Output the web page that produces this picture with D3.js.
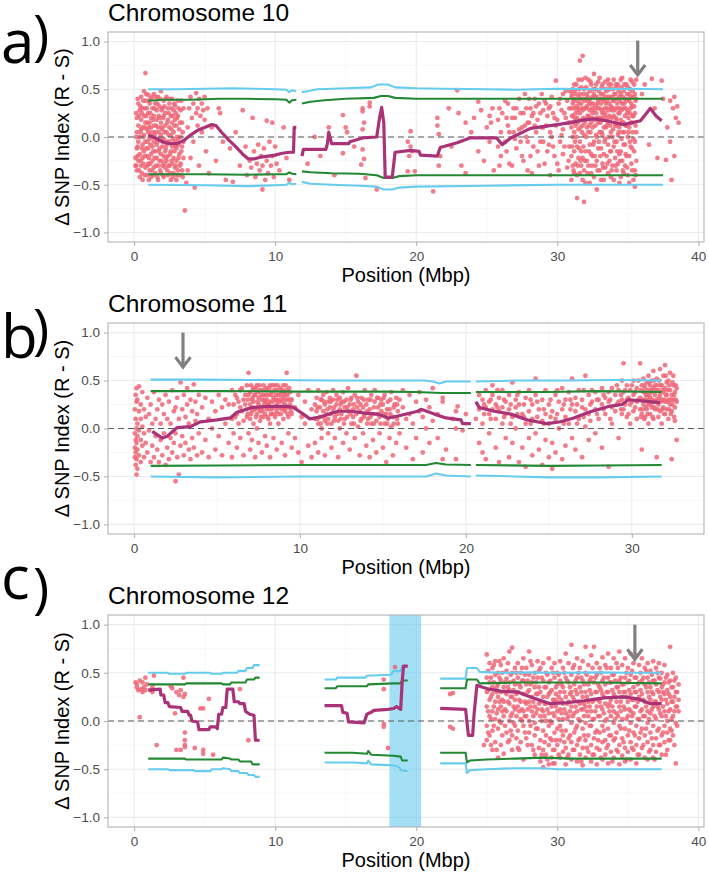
<!DOCTYPE html>
<html>
<head>
<meta charset="utf-8">
<script src="https://cdn.jsdelivr.net/npm/d3@7"></script>
<style>
  body { margin: 0; background: #fff; }
  svg { display: block; }
</style>
</head>
<body>
<div id="chart"></div>
<script>
// ---- DATA ----
// SNP columns: [position (Mbp), delta SNP values at that position...]
const chr10Snps = [
  [0.1,-0.22,-0.3],[0.2,0.2,0.05,-0.12,-0.35],[0.3,0.35,0.12,-0.05,-0.25],[0.4,0.28,0.0,-0.18,-0.42],
  [0.5,0.42,0.18,0.08,-0.3],[0.6,0.3,0.1,-0.08,-0.22,-0.45],[0.7,0.48,0.22,0.02,-0.15],[0.8,0.67,0.38,0.15,-0.05,-0.32],
  [0.9,0.3,0.08,-0.2,-0.4],[1.0,0.44,0.25,0.05,-0.12,-0.28],[1.1,0.35,0.15,-0.02,-0.35],[1.2,0.4,0.2,0.1,-0.18,-0.42],
  [1.3,0.3,0.0,-0.1,-0.25],[1.4,0.45,0.22,0.12,-0.05,-0.32],[1.5,0.35,0.05,-0.15,-0.38],[1.6,0.28,0.18,-0.08,-0.22],
  [1.7,0.42,0.1,-0.02,-0.3,-0.45],[1.8,0.32,0.2,-0.12,-0.25],[1.9,0.48,0.15,0.02,-0.18,-0.38],[2.0,0.3,0.08,-0.1,-0.3],
  [2.1,0.38,0.22,-0.02,-0.2,-0.42],[2.2,0.25,0.12,-0.15,-0.32],[2.3,0.42,0.05,-0.08,-0.25],[2.4,0.3,0.18,-0.2,-0.4],
  [2.5,0.35,0.1,-0.05,-0.3],[2.6,0.22,0.02,-0.15,-0.45],[2.7,0.4,0.15,-0.1,-0.28],[2.8,0.28,0.05,-0.22,-0.38],
  [2.9,0.33,0.18,-0.05,-0.32],[3.0,0.12,-0.12,-0.25,-0.45],[3.1,0.38,0.22,-0.02,-0.35],[3.2,0.08,-0.18,-0.4],
  [3.3,0.28,0.0,-0.28],[3.4,0.15,-0.1,-0.35],[3.5,0.3,-0.05,-0.22],
  [0.15,0.25,0.0,-0.3],[0.25,0.4,-0.1,-0.2],[0.35,0.22,-0.35],[0.45,0.32,0.05,-0.25],[0.55,0.25,-0.12,-0.38],
  [0.65,0.38,0.0,-0.28],[0.75,0.3,0.1,-0.2,-0.4],[0.85,0.45,0.22,-0.12],[0.95,0.15,-0.05,-0.3],[1.05,0.38,0.1,-0.22,-0.45],
  [1.15,0.25,-0.08,-0.28],[1.25,0.42,0.05,-0.35],[1.35,0.18,-0.15,-0.4],[1.45,0.3,0.02,-0.22],[1.55,0.42,0.12,-0.3],
  [1.65,0.35,-0.05,-0.42],[1.75,0.22,0.05,-0.15],[1.85,0.4,-0.02,-0.35],[1.95,0.28,0.1,-0.25],[2.05,0.2,-0.05,-0.4],
  [2.15,0.32,0.05,-0.28],[2.25,0.4,-0.12,-0.22],[2.35,0.15,-0.05,-0.35],[2.45,0.25,0.02,-0.3],[2.55,0.4,-0.18,-0.38],
  [2.65,0.3,0.08,-0.25],[2.75,0.22,-0.02,-0.42],[2.85,0.35,0.12,-0.15],[2.95,0.25,-0.1,-0.3],[3.05,0.2,0.0,-0.4],
  [3.15,0.3,-0.08,-0.22],[3.25,0.15,-0.3],[3.35,0.38,-0.15],[3.45,0.05,-0.42],
  [3.6,-0.77],[3.7,-0.48],[3.8,0.1,-0.35],[3.9,0.3],[4.0,0.42,-0.22],[4.1,0.2],[4.2,0.35,-0.05],[4.3,-0.53],
  [4.4,0.46,0.25],[4.5,0.3,0.12],[4.6,0.4,-0.3],[4.7,0.22],[4.8,0.35,0.05],[4.9,0.28],[5.0,0.18,0.42],[5.1,-0.15],
  [5.2,0.3],[5.3,-0.38],[5.5,0.1],[5.8,-0.25],[6.0,0.3],[6.1,0.25],[6.3,-0.05],[6.5,-0.45],[6.8,-0.12],[7.0,-0.47],
  [7.2,0.05],[7.5,-0.3],[7.7,0.28],
  [7.9,-0.1],[8.0,-0.4],[8.2,-0.25],[8.3,-0.32],[8.4,0.2],[8.5,-0.15],[8.6,-0.42],[8.7,-0.28],[8.8,-0.08],[8.9,-0.35],
  [9.0,-0.2],[9.1,-0.55,-0.3],[9.2,-0.12],[9.3,-0.45],[9.4,0.17,-0.25],[9.5,-0.38],[9.6,-0.05],[9.7,-0.3],
  [9.8,0.15,-0.2],[9.9,-0.42],[10.0,-0.1],[10.1,-0.28],[10.3,-0.35],[10.6,0.1],[10.8,-0.22],[11.0,-0.45],
  [12.3,-0.28],[12.8,0.0],[13.2,-0.2],[13.8,0.1],[14.2,-0.4],[14.8,0.23,-0.17],[15.0,0.1],[15.1,0.05],[15.6,-0.1],
  [16.1,-0.29],[16.2,0.3,0.27,0.08,-0.13],[16.3,0.15,-0.23],[16.4,-0.43],[16.7,0.36,0.32],[17.2,-0.55],
  [19.4,-0.05,-0.36],[19.5,-0.2],[19.6,0.06,-0.1],[19.7,-0.15],[19.9,-0.36],
  [21.2,-0.57],[21.5,0.2,0.12],[21.6,0.03,-0.3],[21.7,-0.2],
  [22.3,0.3],[22.5,-0.1],[22.9,0.49],[23.0,0.25],[23.2,-0.3],[23.5,0.15,-0.38],[23.9,0.05],[24.1,0.2],
  [24.4,0.37,-0.15],[24.6,0.28],[24.8,-0.25],[25.0,0.1],[25.2,-0.05,0.22],[25.4,0.3],[25.5,-0.35],[25.8,0.18,-0.1],
  [26.0,-0.2,0.05],[26.1,0.25],[26.3,-0.05,0.38],[26.5,0.35,0.12],[26.6,0.05,-0.28],[26.8,-0.3,0.2],[27.0,0.2,-0.02],
  [27.1,-0.12,0.3],[27.3,0.4,0.08],[27.5,0.1,-0.2],[27.6,-0.25,0.25],[27.8,0.3,0.0],[27.9,-0.05,0.15,-0.35],
  [28.0,0.15,0.4],[28.2,-0.38,0.22],[28.3,0.25,-0.1],[28.5,0.05,0.32],[28.6,-0.15,0.18],[28.7,0.35,-0.3],
  [28.9,0.45,0.1],[29.0,0.1,-0.05,0.28],[29.1,-0.28,0.38],[29.3,0.22,-0.15],[29.4,-0.08,0.3],[29.5,0.32,0.05,-0.4],
  [29.6,0.0,0.42],[29.8,-0.2,0.2],[29.9,0.59,0.12],[30.0,0.18,-0.28],[30.1,-0.35,0.35],[30.3,0.28,0.02],
  [30.4,0.08,-0.18,0.45],[30.5,-0.1,0.25],[30.7,0.38,-0.32],[30.8,-0.25,0.15],[30.9,0.15,0.48],
  [25.3,0.15],[25.9,0.3,-0.3],[26.4,0.2,-0.15],[26.9,0.3,0.05],[27.4,-0.05,0.25],[27.7,0.12,0.45],[28.1,0.3,-0.2],
  [28.4,0.12,0.4],[28.8,-0.05,0.25],[29.2,0.12,0.35],[29.7,0.25,-0.1],[30.2,0.4,-0.05],[30.6,0.2,0.48],[30.85,0.3,-0.1],
  [31.0,0.42,0.3,0.1,-0.2,-0.45],[31.1,0.5,0.35,0.22,0.0,-0.3],[31.2,0.55,0.4,0.3,0.05,-0.15,-0.38],
  [31.3,0.45,0.25,0.12,-0.28],[31.4,0.38,0.2,-0.1,-0.4,-0.64],[31.5,0.6,0.42,0.3,0.08,-0.22],
  [31.6,0.8,0.45,0.25,-0.05,-0.38],[31.7,0.52,0.35,0.18,-0.15,-0.3],[31.8,0.85,0.4,0.28,0.12,-0.22,-0.45],
  [31.9,0.5,0.3,0.02,-0.35,-0.68],[32.0,0.62,0.4,0.18,-0.15,-0.48],[32.1,0.45,0.32,0.1,-0.25],
  [32.2,0.6,0.38,0.22,0.05,-0.3],[32.3,0.48,0.28,-0.08,-0.48],[32.4,0.55,0.35,0.15,-0.18,-0.38],
  [32.5,0.42,0.25,0.1,-0.2],[32.6,0.66,0.45,0.28,-0.05,-0.42],[32.7,0.5,0.32,0.12,-0.3],
  [32.8,0.42,0.2,0.0,-0.25,-0.55],[32.9,0.58,0.38,0.15,-0.12],[33.0,0.62,0.3,0.05,-0.35],
  [33.1,0.45,0.35,0.2,-0.12,-0.45],[33.2,0.55,0.4,0.25,0.02,-0.28],[33.3,0.38,0.1,-0.18,-0.45],
  [33.4,0.58,0.42,0.25,-0.02,-0.32],[33.5,0.48,0.3,0.12,-0.2],[33.6,0.6,0.42,0.15,-0.08,-0.38],
  [33.7,0.5,0.35,0.22,-0.25],[33.8,0.55,0.32,0.05,-0.15,-0.42],[33.9,0.42,0.28,0.0,-0.3],
  [34.0,0.6,0.38,0.22,-0.1,-0.45],[34.1,0.45,0.3,0.12,-0.22],[34.2,0.52,0.4,0.18,-0.05,-0.35],
  [34.3,0.55,0.3,0.02,-0.28],[34.4,0.42,0.25,0.1,-0.18,-0.48],[34.5,0.6,0.45,0.18,-0.15,-0.42],
  [34.6,0.62,0.35,0.05,-0.25],[34.7,0.48,0.3,0.15,-0.08,-0.38],[34.8,0.4,0.22,-0.08,-0.3],
  [34.9,0.55,0.38,0.12,-0.2],[35.0,0.52,0.28,0.0,-0.4],[35.1,0.45,0.38,0.1,-0.2,-0.48],
  [35.2,0.6,0.3,0.15,-0.1],[35.3,0.58,0.32,0.15,-0.12,-0.35],[35.4,0.42,0.22,-0.02,-0.45],
  [35.5,0.45,0.25,-0.05,-0.35,-0.52],[35.6,0.6,0.4,0.05,-0.25],
  [31.05,0.45,0.22,-0.1],[31.15,0.38,0.15,-0.35],[31.25,0.48,0.2,-0.05],[31.35,0.55,0.32,0.0],[31.45,0.28,0.15,-0.3],
  [31.55,0.5,0.35,-0.12],[31.65,0.4,0.1,-0.25],[31.75,0.6,0.3,0.05],[31.85,0.45,0.2,-0.1],[31.95,0.38,0.15,-0.25],
  [32.05,0.52,0.3,0.0],[32.15,0.42,0.22,-0.38],[32.25,0.35,0.12,-0.15],[32.35,0.58,0.4,0.05],[32.45,0.3,0.2,-0.3],
  [32.55,0.5,0.35,-0.08],[32.65,0.42,0.18,-0.2],[32.75,0.55,0.25,0.02],[32.85,0.35,0.3,-0.35],[32.95,0.48,0.2,-0.05],
  [33.05,0.4,0.15,-0.2],[33.15,0.52,0.28,0.05],[33.25,0.45,0.18,-0.32],[33.35,0.3,0.22,-0.05],[33.45,0.5,0.35,0.1],
  [33.55,0.38,0.2,-0.28],[33.65,0.55,0.28,0.0],[33.75,0.42,0.12,-0.15],[33.85,0.3,0.2,-0.35],[33.95,0.5,0.38,0.08],
  [34.05,0.45,0.28,-0.05],[34.15,0.55,0.2,-0.3],[34.25,0.35,0.12,-0.15],[34.35,0.48,0.25,0.05],[34.45,0.38,0.3,-0.25],
  [34.55,0.52,0.28,-0.02],[34.65,0.42,0.15,-0.35],[34.75,0.55,0.35,0.05],[34.85,0.3,0.12,-0.18],[34.95,0.45,0.25,-0.32],
  [35.05,0.4,0.2,0.05],[35.15,0.5,0.25,-0.05],[35.25,0.42,0.35,-0.28],[35.35,0.48,0.22,0.05],[35.45,0.55,0.32,-0.15],
  [35.55,0.38,0.12,-0.4],
  [36.0,0.45],[36.2,0.55],[36.5,-0.08],[36.7,0.61],[36.9,0.3],[37.1,-0.22],[37.4,0.59],[37.5,0.4],[37.7,-0.24],
  [37.8,0.1],[38.0,0.38,-0.05],[38.1,-0.45],[38.2,0.3],[38.3,0.42,-0.2],[38.4,0.2],[38.5,0.32],[38.6,0.15]
];

const chr11Snps = [
  [0.05,0.2,-0.05,-0.2,-0.3],[0.1,0.35,0.1,-0.12,-0.25,-0.38],[0.15,0.42,0.28,0.0,-0.15,-0.32,-0.48],
  [0.2,0.3,0.05,-0.08,-0.22,-0.42],[0.3,0.44,0.18,-0.02,-0.28],[0.4,0.25,0.1,-0.12,-0.35],[0.5,0.38,0.02,-0.18],
  [0.6,0.2,-0.05,-0.3],[0.7,0.12,-0.15],
  [0.8,0.32,-0.25],[0.9,0.15,-0.02],[1.0,0.25,-0.35],[1.1,0.05,-0.18],[1.2,0.38,-0.3],[1.3,0.1,-0.08],[1.4,-0.22,0.2],
  [1.5,0.3,-0.35],[1.6,0.05,-0.12],[1.7,-0.28,0.25],[1.8,0.15,-0.05],[1.9,-0.38,0.35],[2.0,0.1,-0.2],[2.1,0.28,-0.32],
  [2.2,-0.1,0.05],[2.3,0.4,-0.25],[2.4,-0.15,0.18],[2.5,-0.55,0.22,-0.05],[2.6,0.32,-0.3],[2.7,-0.48,0.1],
  [2.8,0.48,-0.18],[2.9,0.2,-0.08],[3.0,0.35,-0.28],[3.1,0.12,-0.15],[3.2,0.42,0.25],[3.3,-0.22,0.05],[3.4,0.3,-0.32],
  [3.5,0.18,-0.1],[3.6,0.46,-0.2],[3.7,0.08,0.28],[3.8,-0.28,0.15],[3.9,0.35,-0.05],[4.1,0.22,-0.25],[4.3,0.32,-0.12],
  [4.5,0.1,-0.3],[4.7,0.28,0.0],[4.9,0.18,-0.22],[5.1,0.35,-0.08],[5.3,0.22,-0.28],[5.5,0.3,0.05],[5.7,-0.15,0.25],
  [5.9,0.4,0.1,-0.3],
  [6.0,0.25,-0.05],[6.2,0.32,0.15,-0.2],[6.4,0.4,0.22,-0.1],[6.6,0.3,0.08,-0.28],[6.8,0.45,0.2,0.12],[6.9,0.58,0.35,-0.05],
  [7.0,0.38,0.25,0.1,-0.22],[7.1,0.3,0.18,-0.12],[7.2,0.42,0.28,0.05],[7.3,0.35,0.2,-0.3],[7.4,0.45,0.15,0.0],
  [7.5,0.32,0.25,-0.15],[7.6,0.4,0.18,0.08],[7.7,0.3,0.22,-0.25],[7.8,0.45,0.35,0.12],[7.9,0.28,0.15,-0.08],
  [8.0,0.4,0.3,0.2,-0.18],[8.1,0.35,0.25,0.1],[8.2,0.45,0.28,0.05,-0.3],[8.3,0.38,0.2,0.15],[8.4,0.32,0.22,-0.1],
  [8.5,0.45,0.3,0.12],[8.6,0.4,0.25,0.18,-0.22],[8.7,0.35,0.15,0.05],[8.8,0.42,0.3,0.22],[8.9,0.38,0.2,-0.15],
  [9.0,0.45,0.32,0.1],[9.1,0.35,0.25,0.18,-0.28],[9.2,0.58,0.4,0.22],[9.3,0.3,0.12,-0.05],[9.4,0.38,0.25],
  [9.5,0.3,0.15,-0.2],
  [6.1,0.35,0.12],[6.3,0.28,0.05],[6.5,0.42,0.18],[6.7,0.25,0.35],[6.85,0.3,0.15],[7.05,0.45,0.15],[7.15,0.4,0.32],
  [7.25,0.2,0.35],[7.35,0.42,0.12],[7.45,0.28,0.38],[7.55,0.45,0.2],[7.65,0.35,0.12],[7.75,0.4,0.18],[7.85,0.25,0.3],
  [7.95,0.42,0.35],[8.05,0.25,0.12],[8.15,0.42,0.2],[8.25,0.35,0.15],[8.35,0.45,0.28],[8.45,0.4,0.15],[8.55,0.35,0.22],
  [8.65,0.45,0.3],[8.75,0.28,0.22],[8.85,0.35,0.15],[8.95,0.28,0.4],[9.05,0.2,0.38],[9.15,0.45,0.3],[9.25,0.35,0.15],
  [9.35,0.42,0.22],[9.45,0.18,0.3],
  [9.7,0.22,-0.1],[9.9,0.35,-0.25],[10.1,0.12,-0.35],[10.3,0.28,0.05],[10.5,-0.18,0.4],[10.7,0.2,-0.3],
  [10.9,0.25,0.1,-0.15],[11.0,0.32,0.18],[11.1,0.05,0.4,-0.25],[11.2,0.22,0.12],[11.3,0.3,0.0,-0.1],[11.4,0.18,0.35],
  [11.5,0.25,0.08,-0.28],[11.6,0.38,0.15],[11.7,0.1,0.28,-0.05],[11.8,0.22,0.32],[11.9,0.05,-0.2],[12.0,0.3,0.18,0.4],
  [12.1,0.12,-0.1],[12.2,0.25,0.35],[12.3,0.08,-0.3],[12.4,0.2,0.32,0.0],[12.5,0.15,0.28],[12.6,0.38,-0.15],
  [12.7,0.22,0.1],[12.8,0.3,-0.05],[12.9,0.18,0.42],[13.0,0.25,-0.22],[13.1,0.05,0.32],[13.2,0.2,0.12],[13.3,0.35,-0.1],
  [13.4,0.55,0.15],[13.5,0.28,0.02],[13.6,0.18,-0.28],[13.7,0.32,0.1],[13.8,0.22,-0.05],[13.9,0.4,0.15],
  [14.0,0.25,-0.18],[14.1,0.1,0.3],[14.2,0.2,-0.3],[14.3,0.35,0.05],[14.4,0.15,-0.12],[14.5,0.28,0.4],[14.6,0.08,-0.25],
  [14.7,0.22,0.32],[14.8,0.12,-0.05],[14.9,0.3,0.18],[15.0,-0.2,0.25],[15.1,0.35,0.05],[15.2,0.15,-0.35],[15.3,0.28,0.1],
  [15.4,0.2,-0.1],[15.5,0.38,0.02],[15.6,0.12,-0.28],[15.7,0.25],[15.8,0.32,-0.15],[15.9,0.18,0.05],
  [11.05,0.22,0.1],[11.25,0.3,0.05],[11.45,0.28,0.12],[11.65,0.2,0.05],[11.85,0.15,0.28],[12.05,0.22,0.08],
  [12.25,0.15,0.3],[12.45,0.25,0.1],[12.65,0.28,0.05],[12.85,0.22,0.12],[13.05,0.3,0.15],[13.25,0.25,0.05],
  [13.45,0.32,0.22],[13.65,0.25,0.08],[13.85,0.3,0.12],[14.05,0.18,0.05],[14.25,0.3,0.12],[14.45,0.22,0.05],
  [14.65,0.32,0.15],[14.85,0.25,0.05],[15.05,0.15,0.32],[15.25,0.2,0.05],[15.45,0.3,0.15],[15.65,0.05,0.22],[15.85,0.25,0.1],
  [16.0,0.3,-0.05],[16.2,0.22,0.4],[16.4,0.1,-0.2],[16.6,0.35,0.15],[16.8,0.05,-0.32],[17.0,0.28,-0.1],[17.2,0.38,0.18],
  [17.4,0.12,-0.25],[17.6,0.3,0.0],[17.8,0.22,-0.15],[18.0,0.42,0.08],[18.3,0.15,-0.1],[18.6,0.32,0.28,-0.32],
  [18.8,-0.22],[19.2,0.1],[19.4,0.18,0.0,-0.32],[19.5,0.23],[19.8,-0.02],[20.0,0.15],
  [20.6,0.1],[20.8,0.35,0.2,-0.15],[21.0,0.3,0.05,-0.25],[21.2,0.4,0.22,-0.32],[21.4,0.28,0.15,-0.05],[21.6,0.35,0.2,0.45],
  [21.8,0.1,0.25,-0.2],[22.0,0.32,0.18,-0.35],[22.2,0.4,0.05,0.22],[22.4,0.28,-0.1,0.15],[22.6,0.35,0.2,-0.3],
  [22.8,0.48,0.12,-0.15],[23.0,0.3,0.22,0.0],[23.2,0.25,-0.35,0.38],[23.4,0.15,-0.2],[23.6,0.32,0.05,-0.4],
  [23.8,0.4,0.18,-0.1],[24.0,0.25,0.1,-0.28],[24.2,0.35,-0.05,0.52],[24.4,0.2,-0.22],[24.6,0.3,0.08,-0.38],
  [24.8,0.4,0.15,-0.12],[25.0,0.25,-0.3,0.05],[25.2,0.18,-0.15,-0.42],[25.4,0.35,0.1,-0.25],[25.6,0.28,0.0],
  [25.8,0.42,0.2,-0.32],[26.0,0.3,0.12,-0.18],[26.2,0.38,0.05],[26.4,0.25,-0.1,0.52],[26.6,0.32,0.18,-0.22],
  [26.8,0.4,0.1],[27.0,0.3,-0.3,0.22],[27.2,0.2,0.02,0.55],[27.4,0.35,0.15,-0.12],[27.6,0.28,0.4],[27.8,0.38,0.2,-0.05],
  [28.0,0.3,0.1],[28.2,0.42,0.25,-0.2],[28.4,0.32,0.15],[28.6,0.28,-0.4,0.38],[28.8,0.22,0.42,0.05],[29.0,0.35,0.18],
  [29.2,0.4,0.28,-0.1],[29.4,0.3,0.5,0.15],
  [21.1,0.15,0.25],[21.5,0.1,0.3],[21.9,0.22,0.4],[22.3,0.3,0.12],[22.7,0.25,0.05],[23.1,0.15,0.35],[23.5,0.25,0.12],
  [23.9,0.3,0.05],[24.3,0.12,0.28],[24.7,0.2,0.05],[25.1,0.3,0.12],[25.5,0.15,0.4],[25.9,0.25,0.05],[26.3,0.2,0.3],
  [26.7,0.25,0.05],[27.1,0.12,0.4],[27.5,0.25,0.08],[27.9,0.3,0.15],[28.3,0.2,0.35],[28.7,0.3,0.1],[29.1,0.25,0.45],
  [29.35,0.2,0.35],
  [29.5,0.68,0.38,0.2],[29.7,0.3,0.12,0.45],[29.9,0.4,0.25,0.05],[30.1,0.35,0.18,0.5],[30.3,0.42,0.28,0.1],
  [30.5,0.68,0.32,0.2],[30.6,0.45,-0.22,0.15],[30.7,0.38,0.25,0.52],[30.8,0.3,0.12,0.42],[30.9,0.48,0.35,0.2],
  [31.0,0.4,0.25,0.05,0.55],[31.1,0.32,0.15,0.45],[31.2,0.5,0.38,0.22],[31.3,0.42,0.28,0.1,0.6],[31.4,0.35,0.2,0.45],
  [31.5,0.52,-0.3,0.3],[31.6,0.4,0.25,0.12],[31.7,0.62,0.35,0.18],[31.8,0.45,0.3,0.05],[31.9,0.55,0.38,0.22],
  [32.0,0.66,0.42,0.28,0.15],[32.1,0.35,0.2,0.48],[32.2,0.5,0.3,0.1],[32.3,0.4,0.25,0.58],[32.4,-0.32,0.35,0.18],
  [32.5,0.45,0.3,0.55],[32.6,0.38,0.22,0.08],[32.7,-0.12,0.42,0.28],
  [29.6,0.25,0.4],[29.8,0.32,0.15],[30.0,0.45,0.28],[30.2,0.22,0.38],[30.4,0.3,0.5],[30.55,0.4,0.12],[30.65,0.3,0.2],
  [30.75,0.45,0.1],[30.85,0.22,0.35],[30.95,0.3,0.15],[31.05,0.35,0.48],[31.15,0.25,0.4],[31.25,0.3,0.12],
  [31.35,0.22,0.5],[31.45,0.4,0.28],[31.55,0.2,0.45],[31.65,0.32,0.5],[31.75,0.28,0.45],[31.85,0.4,0.2],[31.95,0.3,0.15],
  [32.05,0.35,0.55],[32.15,0.28,0.4],[32.25,0.45,0.2],[32.35,0.3,0.15],[32.45,0.48,0.25],[32.55,0.35,0.12],[32.65,0.3,0.45]
];

const chr12Snps = [
  [0.1,0.4],[0.2,0.35,0.38],[0.3,0.32],[0.4,0.04,0.42],[0.5,0.33],[0.6,0.4,0.3],[0.7,0.35],[0.8,0.45,0.32],[0.9,0.38],
  [1.2,0.32],[1.3,0.3,0.35],[1.4,0.47],[1.6,-0.25],[2.6,0.36],[2.7,0.34],[2.9,0.08],[3.0,0.3,-0.3],[3.2,0.27],
  [3.3,0.32,-0.3],[3.5,0.25,0.45],[3.6,0.28,-0.12,-0.2,-0.25,-0.27],[4.3,-0.28],[4.7,0.13],[4.9,0.13,-0.3,-0.34],
  [5.3,0.23],[5.6,-0.35],[7.5,0.33],[8.1,-0.2],
  [17.7,0.43,0.33,-0.03,-0.06],[18.0,-0.28],[18.5,0.56],
  [22.4,-0.06,0.28],[22.6,0.29,-0.08],[24.8,-0.25],
  [25.0,0.69,0.45,0.3,0.15,-0.05,-0.2],[25.2,0.6,0.4,0.22,0.05,-0.15],[25.4,0.55,0.35,0.28,0.1,-0.1,-0.3],
  [25.6,0.62,0.48,0.2,0.02,-0.22],[25.8,0.5,0.38,0.25,0.12,-0.08,-0.38],[26.0,0.58,0.42,0.3,0.15,-0.02,-0.25],
  [26.2,0.65,0.35,0.2,0.05,-0.34],[26.4,0.52,0.44,0.28,0.1,-0.12],[26.6,0.72,0.4,0.32,0.18,0.0,-0.2],
  [26.8,0.76,0.5,0.25,0.08,-0.15,-0.3],[27.0,0.55,0.38,0.22,0.12,-0.05],[27.2,0.6,0.45,0.3,0.15,-0.1,-0.28],
  [27.4,0.5,0.35,0.2,0.02,-0.22],[27.6,0.65,0.42,0.28,0.1,-0.05,-0.4],[27.8,0.55,0.38,0.18,0.05,-0.18],
  [28.0,0.72,0.48,0.32,0.2,0.0,-0.12],[28.2,0.58,0.4,0.25,0.1,-0.25],[28.4,0.5,0.35,0.15,-0.02,-0.15,-0.35],
  [28.6,0.62,0.45,0.28,0.12,-0.08],[28.8,0.55,0.3,0.2,0.05,-0.2,-0.42],[29.0,0.6,0.42,0.25,0.1,-0.1,-0.3,-0.48],
  [29.2,0.5,0.35,0.18,0.0,-0.15,-0.35],[29.4,0.65,0.4,0.28,0.08,-0.05,-0.25,-0.45],[29.6,0.55,0.32,0.15,-0.02,-0.2,-0.38],
  [29.7,-0.44],[29.8,0.6,0.45,0.22,0.05,-0.12,-0.3,-0.44],[30.0,0.5,0.38,0.2,0.1,-0.08,-0.25],
  [30.2,0.62,0.42,0.3,0.12,-0.05,-0.2,-0.38],[30.4,0.55,0.35,0.18,0.02,-0.15,-0.32],
  [30.6,0.7,0.45,0.25,0.08,-0.1,-0.28,-0.45],[30.8,0.6,0.4,0.2,0.05,-0.18,-0.35],
  [31.0,0.79,0.48,0.3,0.15,-0.02,-0.22,-0.4],[31.2,0.58,0.38,0.22,0.08,-0.12,-0.3],
  [31.4,0.65,0.45,0.28,0.1,-0.05,-0.25,-0.42],[31.6,0.55,0.35,0.18,0.0,-0.18,-0.35],
  [31.8,0.62,0.42,0.25,0.12,-0.08,-0.28,-0.46],[32.0,0.77,0.5,0.3,0.15,-0.02,-0.2,-0.38],
  [32.2,0.58,0.38,0.2,0.05,-0.15,-0.32],[32.4,0.68,0.45,0.28,0.1,-0.05,-0.25,-0.42],
  [32.6,0.77,0.4,0.22,0.02,-0.18,-0.35],[32.8,0.6,0.48,0.3,0.15,-0.1,-0.28,-0.45],
  [33.0,0.55,0.35,0.2,0.05,-0.12,-0.3],[33.2,0.66,0.42,0.28,0.12,-0.05,-0.22,-0.4],
  [33.4,0.58,0.38,0.18,0.0,-0.2,-0.35],[33.6,0.7,0.45,0.3,0.15,-0.08,-0.25,-0.44],
  [33.8,0.55,0.4,0.22,0.05,-0.15,-0.32],[34.0,0.65,0.48,0.28,0.1,-0.02,-0.2,-0.38],
  [34.2,0.6,0.35,0.2,0.08,-0.12,-0.3],[34.4,0.72,0.42,0.3,0.15,-0.05,-0.25,-0.45],
  [34.6,0.58,0.38,0.25,0.02,-0.18,-0.36],[34.8,0.65,0.45,0.3,0.12,-0.08,-0.28,-0.42],
  [35.0,0.55,0.4,0.2,0.05,-0.15,-0.32],[35.2,0.7,0.48,0.28,0.1,-0.02,-0.22,-0.4],
  [35.4,0.6,0.35,0.22,0.08,-0.12,-0.3],[35.6,0.68,0.45,0.3,0.15,-0.05,-0.25,-0.44],
  [35.8,0.58,0.4,0.25,0.02,-0.18,-0.35],[36.0,0.65,0.42,0.28,0.12,-0.08,-0.28],
  [36.2,0.55,0.38,0.2,0.05,-0.15,-0.38],[36.4,0.6,0.45,0.3,0.1,-0.02,-0.22,-0.4],
  [36.6,0.52,0.35,0.22,0.08,-0.12,-0.3],[36.8,0.62,0.42,0.28,0.15,-0.05,-0.25,-0.38],
  [37.0,0.55,0.38,0.2,0.02,-0.18,-0.32],[37.2,0.6,0.45,0.3,0.12,-0.08,-0.25],
  [37.4,0.5,0.35,0.22,0.05,-0.15,-0.35],[37.6,0.58,0.4,0.28,0.1,-0.05,-0.22],
  [37.8,0.48,0.32,0.18,0.0,-0.12,-0.3],[38.0,0.77,0.42,0.25,0.12,-0.08,-0.2],
  [38.2,0.5,0.35,0.2,0.05,-0.15],[38.4,0.45,0.3,0.15,-0.02,-0.44],[38.6,0.38,0.22,0.1],
  [25.1,0.52,0.32,0.1,-0.12],[25.3,0.45,0.25,0.02,-0.25],[25.5,0.58,0.4,0.15,-0.05],[25.7,0.35,0.3,0.08,-0.3],
  [25.9,0.62,0.45,0.2,0.0],[26.1,0.5,0.22,0.1,-0.15],[26.3,0.4,0.3,0.12,-0.05],[26.5,0.6,0.35,0.2,-0.22],
  [26.7,0.48,0.25,0.05,-0.1],[26.9,0.42,0.32,0.15,-0.02],[27.1,0.5,0.28,0.05,-0.18],[27.3,0.38,0.22,0.1,-0.3],
  [27.5,0.55,0.42,0.12,0.0],[27.7,0.48,0.2,0.05,-0.12],[27.9,0.42,0.3,0.12,-0.25],[28.1,0.62,0.38,0.15,-0.05],
  [28.3,0.45,0.2,0.05,-0.3],[28.5,0.4,0.28,0.08,-0.08],[28.7,0.52,0.35,0.18,-0.28],[28.9,0.45,0.12,0.0,-0.35],
  [29.1,0.35,0.18,0.05,-0.22],[29.3,0.48,0.25,0.12,-0.4],[29.5,0.42,0.3,0.0,-0.18],[29.7,0.5,0.22,0.08,-0.3],
  [29.9,0.35,0.28,0.15,-0.2],[30.1,0.48,0.25,0.02,-0.35],[30.3,0.38,0.22,0.08,-0.1],[30.5,0.5,0.3,0.12,-0.22],
  [30.7,0.42,0.18,0.02,-0.38],[30.9,0.35,0.28,0.1,-0.15],[31.1,0.55,0.25,0.05,-0.3],[31.3,0.42,0.32,0.15,-0.08],
  [31.5,0.5,0.2,0.02,-0.2],[31.7,0.45,0.3,0.12,-0.42],[31.9,0.38,0.18,0.05,-0.15],[32.1,0.48,0.25,0.1,-0.28],
  [32.3,0.42,0.32,0.15,-0.05],[32.5,0.55,0.2,0.02,-0.35],[32.7,0.45,0.3,0.1,-0.12],[32.9,0.38,0.22,0.05,-0.2],
  [33.1,0.5,0.32,0.15,-0.38],[33.3,0.45,0.25,0.08,-0.1],[33.5,0.55,0.3,0.02,-0.28],[33.7,0.4,0.18,0.1,-0.15],
  [33.9,0.48,0.32,0.15,-0.42],[34.1,0.42,0.25,0.02,-0.18],[34.3,0.55,0.35,0.05,-0.32],[34.5,0.45,0.2,0.1,-0.08],
  [34.7,0.38,0.3,0.15,-0.22],[34.9,0.5,0.25,0.02,-0.4],[35.1,0.42,0.32,0.12,-0.1],[35.3,0.52,0.22,0.05,-0.28],
  [35.5,0.45,0.3,0.15,-0.15],[35.7,0.38,0.2,0.02,-0.35],[35.9,0.5,0.32,0.1,-0.12],[36.1,0.45,0.22,0.05,-0.25],
  [36.3,0.52,0.35,0.15,-0.08],[36.5,0.4,0.25,0.02,-0.32],[36.7,0.48,0.3,0.12,-0.18],[36.9,0.42,0.2,0.05,-0.4],
  [37.1,0.5,0.32,0.15,-0.1],[37.3,0.44,0.25,0.08,-0.25],[37.5,0.38,0.3,0.15,-0.12],[37.7,0.45,0.22,0.05,-0.35],
  [37.9,0.4,0.28,0.1,-0.2],[38.1,0.35,0.2,0.02,-0.1],[38.3,0.42,0.25,0.1,-0.25],[38.5,0.3,0.15,-0.05]
];

// tricube-smoothed delta SNP index, one array per contig segment
const chr10Smooth = [
  [[1.0,0.02],[1.5,-0.01],[2.0,-0.05],[2.5,-0.07],[3.0,-0.07],[3.5,-0.04],[4.0,0.02],[4.5,0.07],[5.0,0.1],[5.5,0.13],
   [5.8,0.12],[6.2,0.05],[6.7,-0.03],[7.2,-0.1],[7.7,-0.18],[8.1,-0.23],[8.5,-0.23],[9.0,-0.21],[9.5,-0.2],[10.0,-0.19],
   [10.5,-0.17],[11.0,-0.16],[11.3,-0.16],[11.35,0.1],[11.5,0.1]],
  [[11.9,-0.2],[12.0,-0.13],[13.6,-0.13],[13.7,-0.07],[13.8,0.05],[14.0,-0.07],[15.2,-0.07],[15.3,-0.05],[16.2,-0.01],
   [17.2,0.0],[17.4,0.2],[17.55,0.31],[17.7,0.15],[17.8,-0.42],[18.3,-0.42],[18.5,-0.16],[19.6,-0.14],[20.2,-0.15],
   [20.3,-0.19],[21.5,-0.2],[21.7,-0.11],[22.9,-0.06],[23.8,-0.01],[25.7,-0.01],[26.1,-0.08],[26.7,-0.01],[28.1,0.09],
   [30.0,0.13],[30.9,0.15],[31.9,0.18],[32.6,0.19],[33.5,0.17],[34.7,0.13],[35.9,0.17],[36.6,0.3],[37.0,0.22],[37.4,0.17]]
];
const chr11Smooth = [
  [[1.1,-0.03],[1.7,-0.1],[2.0,-0.08],[2.6,0.01],[3.4,0.02],[4.0,0.07],[5.0,0.09],[5.8,0.11],[6.2,0.17],[7.1,0.22],
   [8.2,0.23],[9.2,0.23],[9.6,0.22],[10.2,0.15],[10.6,0.1],[11.2,0.12],[12.3,0.18],[13.1,0.18],[13.9,0.16],[14.7,0.15],
   [15.3,0.11],[15.9,0.13],[17.1,0.18],[17.3,0.2],[18.1,0.15],[18.8,0.11],[19.7,0.09],[19.8,0.05],[20.3,0.05]],
  [[20.6,0.28],[20.8,0.22],[21.7,0.18],[22.7,0.15],[23.7,0.09],[24.9,0.05],[25.7,0.07],[26.5,0.11],[27.4,0.17],
   [28.6,0.23],[29.4,0.25],[29.8,0.3],[30.4,0.29],[31.7,0.27]]
];
const chr12Smooth = [
  [[1.0,0.32],[1.85,0.33],[1.9,0.27],[2.1,0.27],[2.2,0.19],[2.4,0.19],[2.5,0.15],[3.3,0.14],[3.4,0.1],[3.8,0.1],
   [3.9,0.06],[4.0,0.06],[4.1,0.0],[4.5,-0.01],[4.6,-0.09],[5.3,-0.09],[5.4,-0.06],[5.8,-0.06],[5.9,-0.08],[6.0,0.07],
   [6.2,0.07],[6.3,0.14],[6.5,0.14],[6.6,0.33],[7.0,0.33],[7.1,0.2],[7.4,0.2],[7.5,0.18],[7.8,0.18],[7.9,0.1],
   [8.2,0.07],[8.5,0.06],[8.6,-0.2],[8.9,-0.2]],
  [[13.5,0.16],[14.7,0.16],[14.8,0.09],[15.1,0.08],[15.2,-0.01],[16.3,-0.02],[16.5,0.07],[16.8,0.09],[17.0,0.11],
   [18.0,0.12],[18.4,0.13],[18.6,0.15],[18.9,0.12],[19.0,0.4],[19.1,0.57],[19.4,0.57]],
  [[21.7,0.13],[23.5,0.12],[23.7,-0.15],[24.0,-0.15],[24.1,0.07],[24.3,0.37],[24.7,0.35],[25.2,0.33],[25.6,0.32],
   [26.0,0.31],[27.2,0.3],[28.1,0.25],[29.5,0.18],[30.7,0.19],[31.9,0.21],[33.3,0.24],[34.7,0.25],[35.7,0.23],
   [36.6,0.18],[37.4,0.18]]
];

// 99% confidence thresholds (upper / lower)
const chr10Ci99Hi = [
  [[1.0,0.5],[3,0.5],[5,0.505],[7,0.51],[8.5,0.505],[10,0.5],[10.8,0.495],[11.0,0.47],[11.2,0.49],[11.5,0.48]],
  [[11.9,0.47],[12.3,0.48],[13,0.5],[15,0.51],[16.8,0.52],[17.3,0.55],[18.0,0.55],[18.5,0.52],[20,0.51],[22,0.505],
   [25,0.5],[27,0.495],[30,0.505],[33,0.5],[35,0.505],[37.5,0.5]]
];
const chr10Ci99Lo = [
  [[1.0,-0.5],[5,-0.505],[8,-0.515],[10,-0.505],[10.8,-0.5],[11.0,-0.48],[11.2,-0.495],[11.5,-0.49]],
  [[11.9,-0.47],[12.5,-0.49],[14,-0.5],[16,-0.51],[17.2,-0.52],[17.7,-0.55],[18.3,-0.55],[18.8,-0.53],[20,-0.52],
   [25,-0.51],[30,-0.5],[37.5,-0.5]]
];
const chr11Ci99Hi = [
  [[1.0,0.51],[4,0.51],[8,0.505],[12,0.5],[15,0.5],[17.5,0.5],[18.0,0.49],[18.4,0.47],[18.8,0.49],[20.3,0.49]],
  [[20.6,0.49],[23,0.5],[26,0.5],[29,0.505],[31.8,0.5]]
];
const chr11Ci99Lo = [
  [[1.0,-0.5],[5,-0.51],[10,-0.5],[15,-0.5],[17.6,-0.5],[18.2,-0.47],[18.8,-0.49],[20.3,-0.5]],
  [[20.6,-0.49],[23,-0.5],[25,-0.51],[28,-0.51],[31.8,-0.5]]
];
const chr12Ci99Hi = [
  [[1.0,0.5],[2.4,0.5],[2.5,0.49],[3.6,0.49],[3.7,0.5],[5.4,0.5],[5.5,0.49],[6.2,0.49],[6.3,0.5],[7.3,0.5],[7.4,0.52],
   [7.9,0.52],[8.0,0.55],[8.4,0.55],[8.5,0.58],[8.9,0.58]],
  [[13.5,0.43],[14.3,0.43],[14.4,0.45],[16.4,0.45],[16.5,0.47],[18.2,0.48],[18.4,0.52],[18.9,0.52],[19.0,0.57],[19.4,0.57]],
  [[21.7,0.44],[23.5,0.44],[23.6,0.55],[24.3,0.55],[24.5,0.51],[26,0.5],[28,0.505],[30,0.5],[33,0.505],[35,0.5],[37.4,0.5]]
];
const chr12Ci99Lo = [
  [[1.0,-0.5],[2.4,-0.5],[2.5,-0.51],[4.2,-0.51],[4.3,-0.52],[5.4,-0.52],[5.5,-0.5],[6.2,-0.5],[6.3,-0.49],[6.8,-0.5],
   [6.9,-0.52],[7.4,-0.52],[7.5,-0.54],[8.0,-0.54],[8.1,-0.56],[8.5,-0.56],[8.6,-0.58],[8.9,-0.58]],
  [[13.5,-0.43],[15.5,-0.43],[16.5,-0.44],[16.6,-0.41],[16.8,-0.45],[18.4,-0.46],[18.8,-0.48],[18.9,-0.51],[19.4,-0.52]],
  [[21.7,-0.44],[23.5,-0.44],[23.6,-0.54],[23.8,-0.51],[25,-0.5],[27,-0.49],[29,-0.49],[30,-0.5],[33,-0.5],[37.4,-0.5]]
];

// 95% confidence thresholds (upper / lower)
const chr10Ci95Hi = [
  [[1.0,0.38],[2,0.39],[4,0.39],[6,0.4],[8,0.4],[10,0.395],[10.8,0.39],[11.0,0.36],[11.2,0.385],[11.5,0.39]],
  [[11.9,0.35],[12.5,0.37],[13.5,0.385],[15,0.4],[17,0.41],[17.5,0.43],[18.0,0.43],[18.5,0.41],[20,0.4],[37.5,0.4]]
];
const chr10Ci95Lo = [
  [[1.0,-0.39],[5,-0.39],[8,-0.395],[10,-0.39],[10.8,-0.39],[11.0,-0.37],[11.2,-0.385],[11.5,-0.39]],
  [[11.9,-0.36],[12.5,-0.37],[14,-0.38],[16,-0.385],[17.2,-0.4],[17.7,-0.43],[18.3,-0.43],[18.8,-0.41],[20,-0.4],
   [25,-0.4],[37.5,-0.4]]
];
const chr11Ci95Hi = [
  [[1.0,0.39],[5,0.39],[10,0.385],[15,0.385],[17,0.38],[18.5,0.37],[20.3,0.37]],
  [[20.6,0.38],[25,0.38],[28,0.39],[31.8,0.38]]
];
const chr11Ci95Lo = [
  [[1.0,-0.39],[5,-0.385],[10,-0.38],[15,-0.38],[17.6,-0.38],[18.2,-0.36],[18.8,-0.375],[20.3,-0.38]],
  [[20.6,-0.38],[25,-0.39],[28,-0.385],[31.8,-0.38]]
];
const chr12Ci95Hi = [
  [[1.0,0.38],[3.6,0.38],[3.7,0.39],[6.2,0.39],[6.3,0.38],[6.8,0.38],[6.9,0.4],[7.9,0.4],[8.0,0.43],[8.5,0.43],
   [8.6,0.45],[8.9,0.45]],
  [[13.5,0.34],[14.3,0.34],[14.4,0.36],[16.5,0.36],[16.6,0.38],[18.4,0.39],[18.9,0.39],[19.0,0.42],[19.4,0.42]],
  [[21.7,0.34],[23.5,0.34],[23.6,0.43],[24.3,0.43],[24.5,0.39],[27,0.4],[30,0.4],[33,0.4],[37.4,0.39]]
];
const chr12Ci95Lo = [
  [[1.0,-0.39],[3.6,-0.39],[3.7,-0.4],[6.2,-0.4],[6.3,-0.38],[6.8,-0.39],[6.9,-0.4],[7.4,-0.4],[7.5,-0.42],[8.3,-0.42],
   [8.4,-0.45],[8.9,-0.45]],
  [[13.5,-0.33],[15.5,-0.33],[16.5,-0.34],[16.6,-0.31],[16.8,-0.35],[18.4,-0.36],[18.9,-0.37],[19.0,-0.41],[19.4,-0.41]],
  [[21.7,-0.33],[23.5,-0.33],[23.6,-0.43],[23.8,-0.41],[25,-0.4],[27,-0.39],[29,-0.38],[31,-0.39],[34,-0.39],[37.4,-0.39]]
];

// candidate arrows [x, yFrom, yTo] and highlighted region
const chr10Arrow = [35.7, 1.01, 0.65];
const chr11Arrow = [2.95, 1.0, 0.64];
const chr12Arrow = [35.5, 1.0, 0.64];
const chr12Highlight = [18.1, 20.35];

const xTicksLong = [0, 10, 20, 30, 40];
const xTicksShort = [0, 10, 20, 30];
const yTicks = [-1.0, -0.5, 0.0, 0.5, 1.0];
const yMinor = [-0.75, -0.25, 0.25, 0.75];

// ---- LAYOUT ----
const W = 709, H = 872;
const left = 108, right = 704;
const FONT = "'Liberation Sans', Arial, sans-serif";
const C = { pt: "#EE6677", ci99: "#66CCEE", ci95: "#228833", smooth: "#AA3377", grid: "#ebebeb", minor: "#f5f5f5" };

const panels = [
  { tag: "a", tagY: 63, parenY: 54, title: "Chromosome 10", titleY: 21, top: 32, bottom: 242, xdom: [-1.85, 40.4], xticks: xTicksLong,
    snps: chr10Snps, smooth: chr10Smooth, hi99: chr10Ci99Hi, lo99: chr10Ci99Lo, hi95: chr10Ci95Hi, lo95: chr10Ci95Lo, arrow: chr10Arrow, shade: null },
  { tag: "b", tagY: 358, parenY: 348, title: "Chromosome 11", titleY: 312, top: 323, bottom: 534, xdom: [-1.57, 34.35], xticks: xTicksShort,
    snps: chr11Snps, smooth: chr11Smooth, hi99: chr11Ci99Hi, lo99: chr11Ci99Lo, hi95: chr11Ci95Hi, lo95: chr11Ci95Lo, arrow: chr11Arrow, shade: null },
  { tag: "c", tagY: 599, parenY: 607, title: "Chromosome 12", titleY: 604, top: 615, bottom: 827, xdom: [-1.85, 40.4], xticks: xTicksLong,
    snps: chr12Snps, smooth: chr12Smooth, hi99: chr12Ci99Hi, lo99: chr12Ci99Lo, hi95: chr12Ci95Hi, lo95: chr12Ci95Lo, arrow: chr12Arrow, shade: chr12Highlight }
];

const svg = d3.select("#chart").append("svg")
  .attr("width", W).attr("height", H)
  .style("font-family", FONT);

panels.forEach(p => {
  const x = d3.scaleLinear().domain(p.xdom).range([left, right]);
  const y = d3.scaleLinear().domain([-1.1, 1.1]).range([p.bottom, p.top]);
  const g = svg.append("g");

  // panel grid
  const minorX = p.xticks.map(t => t + 5).filter(t => t < p.xdom[1]);
  g.selectAll(".mx").data(minorX).join("line")
    .attr("x1", d => x(d)).attr("x2", d => x(d)).attr("y1", p.top).attr("y2", p.bottom)
    .attr("stroke", C.minor).attr("stroke-width", 0.8);
  g.selectAll(".my").data(yMinor).join("line")
    .attr("x1", left).attr("x2", right).attr("y1", d => y(d)).attr("y2", d => y(d))
    .attr("stroke", C.minor).attr("stroke-width", 0.8);
  g.selectAll(".gx").data(p.xticks).join("line")
    .attr("x1", d => x(d)).attr("x2", d => x(d)).attr("y1", p.top).attr("y2", p.bottom)
    .attr("stroke", C.grid).attr("stroke-width", 1.1);
  g.selectAll(".gy").data(yTicks).join("line")
    .attr("x1", left).attr("x2", right).attr("y1", d => y(d)).attr("y2", d => y(d))
    .attr("stroke", C.grid).attr("stroke-width", 1.1);

  // highlighted interval
  if (p.shade) {
    g.append("rect")
      .attr("x", x(p.shade[0])).attr("width", x(p.shade[1]) - x(p.shade[0]))
      .attr("y", p.top).attr("height", p.bottom - p.top)
      .attr("fill", C.ci99).attr("opacity", 0.6);
  }

  // SNPs
  const pts = p.snps.flatMap(c => c.slice(1).map(v => [c[0], v]));
  g.selectAll(".pt").data(pts).join("circle")
    .attr("cx", d => x(d[0])).attr("cy", d => y(d[1]))
    .attr("r", 2.4).attr("fill", C.pt).attr("fill-opacity", 0.85);

  // zero reference
  g.append("line")
    .attr("x1", left).attr("x2", right).attr("y1", y(0)).attr("y2", y(0))
    .attr("stroke", "#5a5a5a").attr("stroke-width", 1.2).attr("stroke-dasharray", "6,4");

  const line = d3.line().x(d => x(d[0])).y(d => y(d[1]));
  const drawSegs = (segs, color, w) => {
    g.selectAll(null).data(segs).join("path")
      .attr("d", line).attr("fill", "none")
      .attr("stroke", color).attr("stroke-width", w).attr("stroke-linejoin", "round");
  };
  drawSegs(p.hi99, C.ci99, 2.1);
  drawSegs(p.lo99, C.ci99, 2.1);
  drawSegs(p.hi95, C.ci95, 2.1);
  drawSegs(p.lo95, C.ci95, 2.1);
  drawSegs(p.smooth, C.smooth, 3.2);

  // arrow
  const [ax, ay0, ay1] = p.arrow;
  const tipX = x(ax), tipY = y(ay1);
  g.append("line").attr("x1", tipX).attr("x2", tipX).attr("y1", y(ay0)).attr("y2", tipY - 1)
    .attr("stroke", "#808080").attr("stroke-width", 3.2);
  g.append("path")
    .attr("d", `M${tipX - 7.5},${tipY - 10}L${tipX},${tipY}L${tipX + 7.5},${tipY - 10}`)
    .attr("fill", "none").attr("stroke", "#808080").attr("stroke-width", 3.2).attr("stroke-linejoin", "miter");

  // border
  g.append("rect").attr("x", left).attr("y", p.top).attr("width", right - left).attr("height", p.bottom - p.top)
    .attr("fill", "none").attr("stroke", "#b3b3b3").attr("stroke-width", 1.1);

  // axes
  const xa = g.append("g").attr("transform", `translate(0,${p.bottom})`)
    .call(d3.axisBottom(x).tickValues(p.xticks).tickFormat(d3.format("d")).tickSize(4).tickPadding(5));
  const ya = g.append("g").attr("transform", `translate(${left},0)`)
    .call(d3.axisLeft(y).tickValues(yTicks).tickFormat(d3.format(".1f")).tickSize(4).tickPadding(4));
  [xa, ya].forEach(a => {
    a.select(".domain").remove();
    a.selectAll(".tick line").attr("stroke", "#b3b3b3").attr("stroke-width", 1.1);
    a.selectAll(".tick text").attr("fill", "#4d4d4d").style("font-size", "13.5px").style("font-family", FONT);
  });

  // titles
  g.append("text").attr("x", left).attr("y", p.titleY).text(p.title)
    .style("font-size", "24.5px").attr("fill", "#000");
  g.append("text").attr("x", (left + right) / 2).attr("y", p.bottom + 40).attr("text-anchor", "middle")
    .text("Position (Mbp)").style("font-size", "20px").attr("fill", "#000");
  g.append("text").attr("transform", `translate(69,${(p.top + p.bottom) / 2}) rotate(-90)`)
    .attr("text-anchor", "middle").text("Δ SNP Index (R - S)").style("font-size", "20px").attr("fill", "#000");

  // panel tag, letter and bracket set separately so the bracket sits tight
  const tag = g.append("text").style("font-family", "'Open Sans', sans-serif").attr("fill", "#000");
  tag.append("tspan").attr("x", 1).attr("y", p.tagY).style("font-size", "60px").text(p.tag);
  tag.append("tspan").attr("x", 33).attr("y", p.parenY).style("font-size", "55px").text(")");
});
</script>
</body>
</html>
